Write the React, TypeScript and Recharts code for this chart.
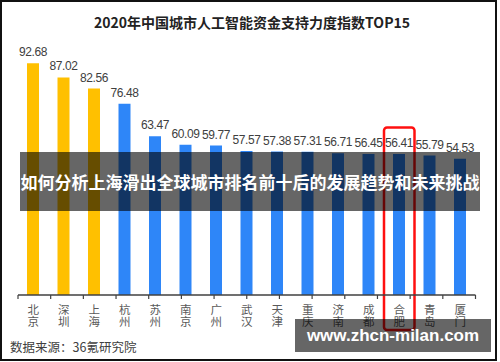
import { Bar, BarChart, Cell, LabelList, ReferenceArea, ReferenceLine, XAxis, YAxis } from 'recharts';

const cities = ['北京', '深圳', '上海', '杭州', '苏州', '南京', '广州', '武汉', '天津', '重庆', '济南', '成都', '合肥', '青岛', '厦门'];
const scores = [92.68, 87.02, 82.56, 76.48, 63.47, 60.09, 59.77, 57.57, 57.38, 57.31, 56.71, 56.45, 56.41, 55.79, 54.53];
const topCities = ['北京', '深圳', '上海'];
const edgeTicks = [0, 1, 2, 3, 4, 5, 6, 7, 8, 9, 10, 11, 12, 13, 14, 15];
const highlight = '合肥';

const YELLOW = '#FFC000';
const BLUE = '#2E86F8';

const data = cities.map((city, i) => ({ city, score: scores[i] }));

// city names stacked top to bottom
function CityTick({ x, y, payload }: any) {
  return (
    <text
      x={x}
      y={y + 0.5}
      fill="#595959"
      fontSize={11.5}
      fontFamily="'Noto Sans CJK SC', sans-serif"
      style={{ writingMode: 'vertical-rl', letterSpacing: 0.5 }}
    >
      {payload.value}
    </text>
  );
}

export default function App() {
  return (
    <div style={{ position: 'absolute', left: 0, top: 0, width: 500, height: 362, background: '#fff', overflow: 'hidden' }}>
      <div
        style={{
          position: 'absolute',
          left: 0,
          top: 14,
          width: 504,
          textAlign: 'center',
          fontFamily: "'Noto Sans CJK SC', sans-serif",
          fontWeight: 700,
          fontSize: 14,
          color: '#222',
          lineHeight: '16px',
        }}
      >
        2020年中国城市人工智能资金支持力度指数TOP15
      </div>
      <BarChart width={500} height={362} data={data} margin={{ top: 45, right: 24.5, left: 18, bottom: 27 }} barSize={12}>
        <YAxis hide domain={[0, 100]} />
        <XAxis xAxisId="edge" type="number" domain={[0, 15]} hide />
        <XAxis
          dataKey="city"
          height={40}
          interval={0}
          axisLine={{ stroke: '#404040', strokeWidth: 1.5 }}
          tickLine={false}
          tick={<CityTick />}
        />
        <Bar dataKey="score" isAnimationActive={false}>
          {data.map((d) => (
            <Cell key={d.city} fill={topCities.includes(d.city) ? YELLOW : BLUE} />
          ))}
          <LabelList
            dataKey="score"
            position="top"
            offset={7}
            fill="#404040"
            fontSize={12}
            fontFamily="'Liberation Sans', Arial, sans-serif"
            letterSpacing={-0.4}
          />
        </Bar>
        {edgeTicks.map((t) => (
          <ReferenceLine
            key={t}
            xAxisId="edge"
            ifOverflow="visible"
            segment={[
              { x: t, y: 0 },
              { x: t, y: -1.6 },
            ]}
            stroke="#404040"
            strokeWidth={1.2}
          />
        ))}
        <ReferenceArea
          x1={highlight}
          x2={highlight}
          y1={-14}
          y2={67}
          ifOverflow="visible"
          fill="none"
          fillOpacity={0}
          stroke="#FF1010"
          strokeWidth={2.5}
          radius={3}
        />
      </BarChart>
      <div
        style={{
          position: 'absolute',
          left: 10,
          top: 338,
          fontFamily: "'Noto Sans CJK SC', sans-serif",
          fontSize: 12.5,
          color: '#404040',
          lineHeight: '18px',
        }}
      >
        数据来源：36氪研究院
      </div>
      <div
        style={{
          position: 'absolute',
          left: 20,
          top: 152,
          width: 460,
          height: 59,
          background: 'rgba(0,0,0,0.6)',
          color: '#fff',
          fontFamily: "'Noto Sans CJK SC', sans-serif",
          fontWeight: 700,
          fontSize: 17,
          lineHeight: '59px',
          textAlign: 'center',
          whiteSpace: 'nowrap',
        }}
      >
        如何分析上海滑出全球城市排名前十后的发展趋势和未来挑战
      </div>
      <div
        style={{
          position: 'absolute',
          left: 295,
          top: 319,
          width: 196,
          height: 33,
          background: 'rgba(0,0,0,0.6)',
          color: '#fff',
          fontFamily: "'Liberation Sans', Arial, sans-serif",
          fontWeight: 700,
          fontSize: 17,
          lineHeight: '33px',
          textAlign: 'center',
          whiteSpace: 'nowrap',
        }}
      >
        www.zhcn-milan.com
      </div>
      <div
        style={{
          position: 'absolute',
          left: 0,
          top: 0,
          width: 497,
          height: 361,
          boxSizing: 'border-box',
          border: '2px solid #111',
          pointerEvents: 'none',
        }}
      />
    </div>
  );
}
